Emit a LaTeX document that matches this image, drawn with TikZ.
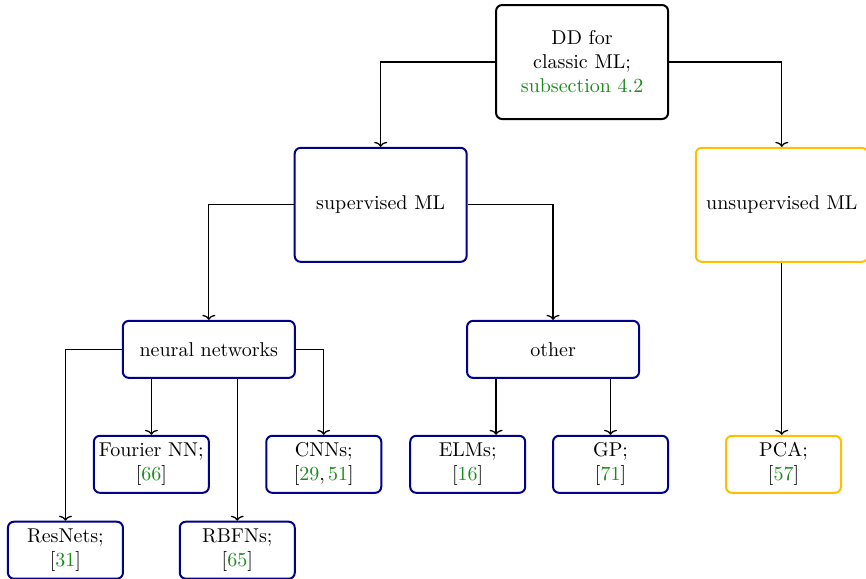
\documentclass[tikz,border=0pt]{standalone}
\usepackage{amsfonts,amssymb,amsmath}
\usepackage{tikz}
\usetikzlibrary{calc,positioning,arrows.meta}

\definecolor{citegreen}{RGB}{25,140,25}
\definecolor{supblue}{RGB}{0,0,140}
\definecolor{unsyellow}{RGB}{255,190,0}
\newcommand{\cit}[1]{[\textcolor{citegreen}{#1}]}

\begin{document}
\begin{tikzpicture}[
  box/.style={draw, rounded corners=3pt, line width=1pt, align=center, inner sep=1pt},
  bigbox/.style={box, minimum width=86pt, minimum height=57pt},
  midbox/.style={box, minimum width=86pt, minimum height=28.5pt},
  leafbox/.style={box, minimum width=57.5pt, minimum height=28.5pt},
  arr/.style={-{To[length=2.5pt,width=6.5pt]}, line width=0.65pt}]
\useasboundingbox (0,0) rectangle (15.22,-10.17);
\node[bigbox] (root) at (10.23,-1.09) {DD for\\ classic ML;\\ \textcolor{citegreen}{subsection 4.2}};
\node[bigbox, draw=supblue] (sup) at (6.69,-3.60) {supervised ML};
\node[bigbox, draw=unsyellow] (uns) at (13.74,-3.60) {unsupervised ML};
\node[midbox, draw=supblue] (nn) at (3.67,-6.14) {neural networks};
\node[midbox, draw=supblue] (oth) at (9.72,-6.14) {other};
\node[leafbox, draw=supblue] (fnn) at (2.66,-8.16) {Fourier NN;\\ \cit{66}};
\node[leafbox, draw=supblue] (cnn) at (5.69,-8.16) {CNNs;\\ {}[\textcolor{citegreen}{29}$,$\,\textcolor{citegreen}{51}]};
\node[leafbox, draw=supblue] (elm) at (8.22,-8.16) {ELMs;\\ \cit{16}};
\node[leafbox, draw=supblue] (gp) at (10.73,-8.16) {GP;\\ \cit{71}};
\node[leafbox, draw=unsyellow] (pca) at (13.77,-8.16) {PCA;\\ \cit{57}};
\node[leafbox, draw=supblue] (res) at (1.15,-9.67) {ResNets;\\ \cit{31}};
\node[leafbox, draw=supblue] (rbf) at (4.17,-9.67) {RBFNs;\\ \cit{65}};
\draw[arr] (root.west) -| (sup.north);
\draw[arr] (root.east) -| (uns.north);
\draw[arr] (sup.west) -| (nn.north);
\draw[arr] (sup.east) -| (oth.north);
\draw[arr] (uns.south) -- (uns.south |- pca.north);
\draw[arr] (nn.west) -| (res.north);
\draw[arr] (nn.east) -| (cnn.north);
\draw[arr] (nn.south -| fnn.north) -- (fnn.north);
\draw[arr] (nn.south -| rbf.north) -- (rbf.north);
\draw[arr] ([xshift=-28.5pt]oth.south) -- ([xshift=-28.5pt]oth.south |- elm.north);
\draw[arr] (oth.south -| gp.north) -- (gp.north);
\end{tikzpicture}
\end{document}
